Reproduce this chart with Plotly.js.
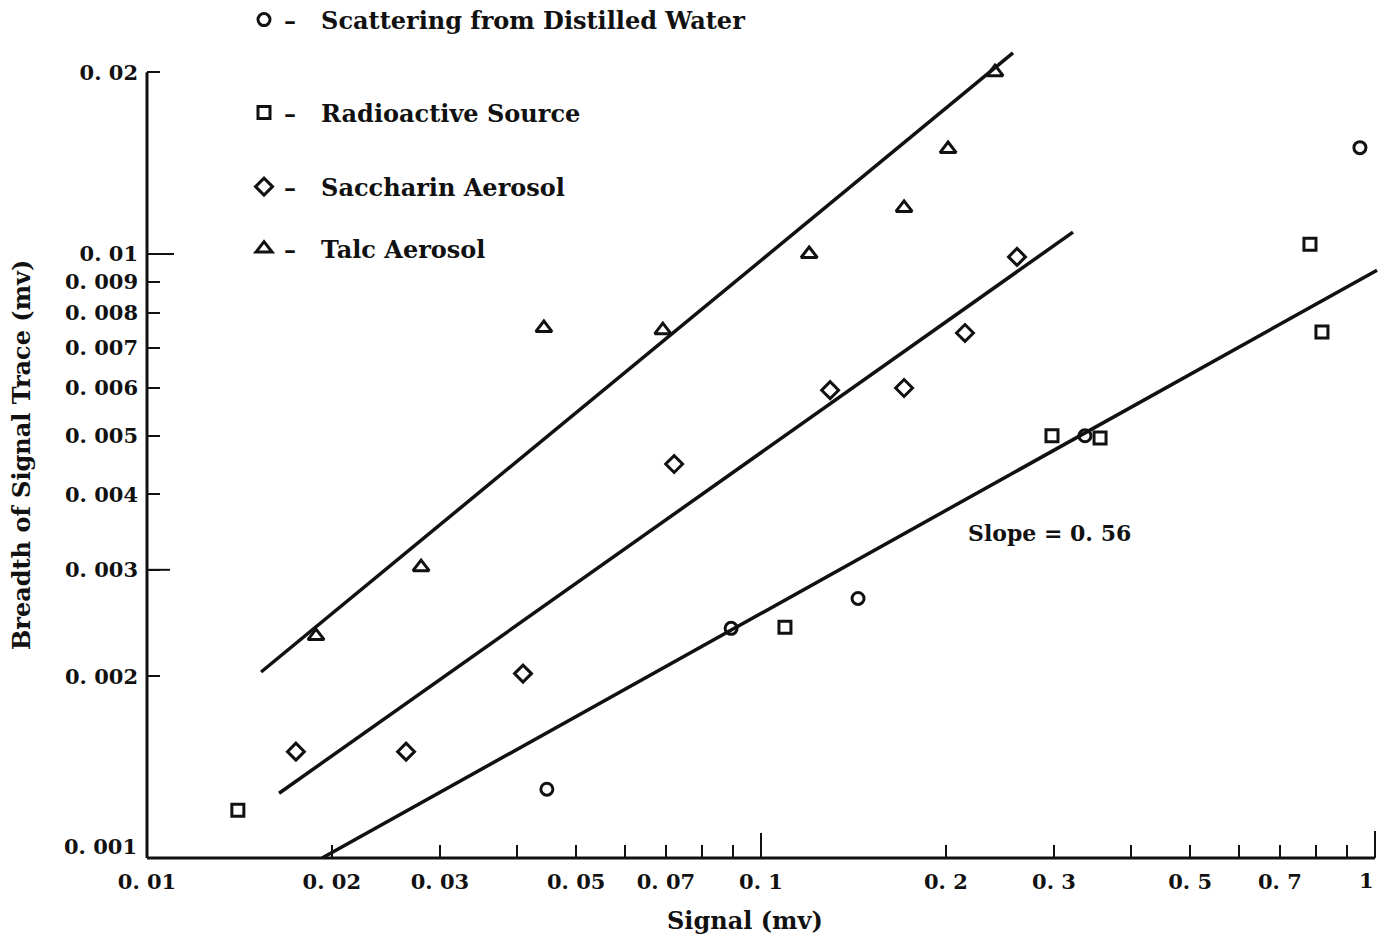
<!DOCTYPE html>
<html>
<head>
<meta charset="utf-8">
<script src="https://cdn.plot.ly/plotly-3.0.1.min.js"></script>
<style>html,body{margin:0;padding:0;background:#fff;}#chart{width:1379px;height:938px;}</style>
</head>
<body>
<div id="chart"></div>
<script>
// ---- data ----
const seriesNames = ['Scattering from Distilled Water', 'Radioactive Source', 'Saccharin Aerosol', 'Talc Aerosol'];

const waterX = [0.0448, 0.0894, 0.1439, 0.337, 0.945];
const waterY = [0.0013, 0.0024, 0.00269, 0.005, 0.015];

const sourceX = [0.01406, 0.1094, 0.2978, 0.3566, 0.7836, 0.8196];
const sourceY = [0.0012, 0.00241, 0.005, 0.00496, 0.01038, 0.00743];

const saccharinX = [0.01748, 0.02642, 0.04096, 0.0722, 0.1296, 0.171, 0.2149, 0.2612];
const saccharinY = [0.0015, 0.0015, 0.00202, 0.00449, 0.00595, 0.006, 0.0074, 0.00989];

const talcX = [0.01885, 0.02795, 0.0443, 0.0692, 0.1198, 0.171, 0.2017, 0.2405];
const talcY = [0.00233, 0.00303, 0.00754, 0.00748, 0.01, 0.01192, 0.01492, 0.02];

// fitted lines (end points)
const talcFitX = [0.01534, 0.2573];
const talcFitY = [0.002032, 0.02152];
const saccharinFitX = [0.01641, 0.3222];
const saccharinFitY = [0.00128, 0.01087];
const lowerFitX = [0.01928, 1.0076];
const lowerFitY = [0.001, 0.0094];

const xTickVals = [0.01,0.02,0.03,0.04,0.05,0.06,0.07,0.08,0.09,0.1,0.2,0.3,0.4,0.5,0.6,0.7,0.8,0.9,1];
const xTickText = ['0. 01','0. 02','0. 03','','0. 05','','0. 07','','','0. 1','0. 2','0. 3','','0. 5','','0. 7','','','1'];
const yTickVals = [0.001,0.002,0.003,0.004,0.005,0.006,0.007,0.008,0.009,0.01,0.02];
const yTickText = ['0. 001','0. 002','0. 003','0. 004','0. 005','0. 006','0. 007','0. 008','0. 009','0. 01','0. 02'];
const slopeText = 'Slope = 0. 56';
const xTitle = 'Signal (mv)';
const yTitle = 'Breadth of Signal Trace (mv)';

// ---- layout geometry ----
const W = 1379, H = 938;
const mL = 147, mR = 0, mT = 10, mB = 80;
const plotW = W - mL - mR, plotH = H - mT - mB;
const xr = [-2, -2 + plotW / 614];
const yr = [-3, -3 + plotH / 604];
const fx = v => (Math.log10(v) - xr[0]) / (xr[1] - xr[0]);
const fy = v => (Math.log10(v) - yr[0]) / (yr[1] - yr[0]);
const ppx = p => (p - mL) / plotW;       // pixel -> paper x
const ppy = p => (H - mB - p) / plotH;   // pixel -> paper y

const FONT = 'DejaVu Serif';
const ink = '#111';
const legendIds = ['legend', 'legend2', 'legend3', 'legend4'];
const legendRowsY = [20, 113, 187, 249];

function markers(x, y, i, symbol, size) {
  return {x, y, name: '–\u00a0\u00a0\u00a0' + seriesNames[i], legend: legendIds[i], showlegend: true,
    type: 'scatter', mode: 'markers', cliponaxis: false,
    marker: {symbol, size, color: ink, line: {color: ink, width: 3}}};
}
function fit(x, y) {
  return {x, y, type: 'scatter', mode: 'lines', showlegend: false, line: {color: ink, width: 3.5}, hoverinfo: 'skip'};
}

const traces = [
  fit(talcFitX, talcFitY),
  fit(saccharinFitX, saccharinFitY),
  fit(lowerFitX, lowerFitY),
  markers(waterX, waterY, 0, 'circle-open', 12),
  markers(sourceX, sourceY, 1, 'square-open', 12),
  markers(saccharinX, saccharinY, 2, 'diamond-open', 13),
  markers(talcX, talcY, 3, 'triangle-up-open', 14)
];

// the two end labels are placed by hand (kept clear of the corner / page edge), the rest by the axes
const xAxisText = xTickText.map((t, i) => i === xTickText.length - 1 ? '' : t);
const yAxisText = yTickText.map((t, i) => i === 0 ? '' : t);
const tickFont = {family: FONT, size: 21, color: ink, weight: 'bold'};

const annotations = [
  {xref: 'paper', yref: 'paper', x: ppx(966), y: ppy(533), text: slopeText,
   showarrow: false, xanchor: 'left', yanchor: 'middle', font: {family: FONT, size: 22, color: ink, weight: 'bold'}},
  {xref: 'paper', yref: 'paper', x: ppx(745), y: ppy(920), text: xTitle,
   showarrow: false, xanchor: 'center', yanchor: 'middle', font: {family: FONT, size: 24, color: ink, weight: 'bold'}},
  {xref: 'paper', yref: 'paper', x: ppx(21), y: ppy(455), text: yTitle, textangle: -90,
   showarrow: false, xanchor: 'center', yanchor: 'middle', font: {family: FONT, size: 24, color: ink, weight: 'bold'}},
  {xref: 'paper', yref: 'paper', x: ppx(1376), y: ppy(881), text: xTickText[xTickText.length - 1],
   showarrow: false, xanchor: 'right', yanchor: 'middle', font: tickFont},
  {xref: 'paper', yref: 'paper', x: ppx(139), y: ppy(846), text: yTickText[0],
   showarrow: false, xanchor: 'right', yanchor: 'middle', font: tickFont}
];

const shapes = [
  // axis lines
  {type: 'line', xref: 'paper', yref: 'paper', x0: 0, x1: 0, y0: fy(0.001), y1: fy(0.02), line: {color: ink, width: 3}},
  {type: 'line', xref: 'paper', yref: 'paper', x0: 0, x1: fx(1), y0: 0, y1: 0, line: {color: ink, width: 3}},
  // long ticks
  {type: 'line', xref: 'paper', yref: 'paper', x0: fx(0.1), x1: fx(0.1), y0: 0, y1: 25 / plotH, line: {color: ink, width: 2}},
  {type: 'line', xref: 'paper', yref: 'paper', x0: fx(1), x1: fx(1), y0: 0, y1: 27 / plotH, line: {color: ink, width: 2}},
  {type: 'line', xref: 'paper', yref: 'paper', x0: 0, x1: 27 / plotW, y0: fy(0.01), y1: fy(0.01), line: {color: ink, width: 2}},
  {type: 'line', xref: 'paper', yref: 'paper', x0: 0, x1: 23 / plotW, y0: fy(0.003), y1: fy(0.003), line: {color: ink, width: 2}}
];

const layout = {
  width: W, height: H, autosize: false,
  paper_bgcolor: '#fff', plot_bgcolor: '#fff',
  margin: {l: mL, r: mR, t: mT, b: mB, pad: 0, autoexpand: false},
  showlegend: true,
  font: {family: FONT, color: ink, size: 18},
  xaxis: {
    type: 'log', range: xr, autorange: false, automargin: false,
    showgrid: false, zeroline: false, showline: false,
    tickmode: 'array', tickvals: xTickVals, ticktext: xAxisText,
    ticks: 'inside', ticklen: 13, tickwidth: 2, tickcolor: ink,
    ticklabelstandoff: 9, ticklabeloverflow: 'allow',
    tickfont: tickFont
  },
  yaxis: {
    type: 'log', range: yr, autorange: false, automargin: false,
    showgrid: false, zeroline: false, showline: false,
    tickmode: 'array', tickvals: yTickVals, ticktext: yAxisText,
    ticks: 'inside', ticklen: 13, tickwidth: 2, tickcolor: ink,
    ticklabelstandoff: 8, ticklabeloverflow: 'allow',
    tickfont: tickFont
  },
  shapes, annotations
};
legendIds.forEach((id, i) => {
  layout[id] = {x: ppx(244), xanchor: 'left', y: ppy(legendRowsY[i]), yanchor: 'middle',
    bgcolor: 'rgba(0,0,0,0)', borderwidth: 0, itemwidth: 30,
    font: {family: FONT, size: 24, color: ink, weight: 'bold'}};
});

Plotly.newPlot('chart', traces, layout, {staticPlot: true, displayModeBar: false});
</script>
</body>
</html>
